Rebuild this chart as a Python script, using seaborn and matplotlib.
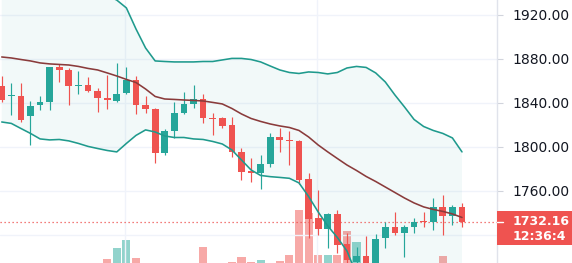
import numpy as np
import matplotlib
matplotlib.use("Agg")
import matplotlib.pyplot as plt
from matplotlib.patches import Rectangle
import seaborn as sns

# ---------------- data ----------------
opens = [1855.5, 1846.4, 1846.4, 1828.2, 1838.2, 1841.2, 1872.5, 1870.0, 1855.5, 1856.4,
         1851.2, 1844.8, 1842.1, 1848.8, 1860.6, 1838.5, 1834.8, 1794.3, 1814.8, 1831.2,
         1838.8, 1843.6, 1826.4, 1826.1, 1820.0, 1795.2, 1777.7, 1776.1, 1784.5, 1809.4,
         1806.4, 1805.8, 1770.6, 1735.2, 1725.2, 1739.1, 1711.5, 1695.5, 1700.9, 1692.7,
         1717.0, 1727.5, 1722.1, 1727.0, 1732.7, 1732.1, 1745.2, 1737.3, 1745.2]
highs = [1864.5, 1858.2, 1858.2, 1841.8, 1846.4, 1872.7, 1875.5, 1871.8, 1869.1, 1863.6,
         1853.6, 1865.5, 1876.6, 1873.0, 1864.5, 1846.4, 1835.5, 1816.4, 1840.9, 1849.7,
         1856.4, 1847.9, 1831.2, 1827.5, 1827.5, 1798.8, 1789.7, 1792.7, 1813.0, 1817.5,
         1814.5, 1806.4, 1776.6, 1760.9, 1740.0, 1742.7, 1721.8, 1709.4, 1719.0, 1720.6,
         1732.1, 1740.6, 1729.1, 1735.2, 1741.2, 1753.4, 1756.4, 1747.3, 1748.8]
lows = [1840.9, 1829.1, 1822.7, 1801.8, 1833.6, 1833.6, 1859.1, 1838.2, 1848.2, 1850.0,
        1831.8, 1834.5, 1841.2, 1848.2, 1830.0, 1830.9, 1785.2, 1792.7, 1808.5, 1830.0,
        1835.5, 1822.1, 1810.9, 1817.0, 1790.6, 1770.0, 1768.5, 1761.5, 1782.1, 1795.7,
        1783.6, 1766.1, 1717.0, 1720.0, 1707.9, 1703.4, 1692.0, 1688.0, 1688.0, 1690.0,
        1707.9, 1720.0, 1699.7, 1722.1, 1727.5, 1724.5, 1720.0, 1729.1, 1727.5]
closes = [1842.7, 1847.3, 1824.5, 1837.3, 1840.9, 1872.5, 1870.0, 1855.5, 1856.4, 1851.2,
          1844.8, 1842.5, 1848.5, 1860.9, 1838.2, 1834.3, 1794.3, 1814.3, 1831.2, 1838.8,
          1843.4, 1826.1, 1825.5, 1819.4, 1795.2, 1777.0, 1776.4, 1784.5, 1809.4, 1806.4,
          1805.5, 1770.0, 1734.5, 1725.2, 1739.1, 1710.9, 1697.3, 1700.9, 1693.0, 1716.0,
          1727.5, 1722.1, 1727.5, 1732.1, 1731.8, 1745.2, 1737.3, 1745.2, 1732.16]
volumes = [14, 16, 12, 18, 15, 20, 13, 17, 12, 15,
           19, 31, 42, 50, 32, 22, 26, 24, 20, 18,
           23, 43, 21, 22, 28, 33, 28, 30, 24, 29,
           35, 80, 77, 35, 35, 35, 59, 48, 25, 22,
           20, 18, 17, 16, 15, 21, 34, 19, 20]
bb_upper = [1940.9, 1940.4, 1942.2, 1944.1, 1945.5, 1944.6, 1943.2, 1943.5, 1943.2, 1942.3,
            1941.4, 1937.8, 1933.5, 1926.4, 1907.3, 1890.0, 1878.2, 1877.7, 1877.3, 1877.3,
            1877.3, 1877.7, 1877.7, 1879.1, 1880.5, 1880.5, 1879.5, 1877.3, 1873.6, 1870.0,
            1867.7, 1866.8, 1868.2, 1867.7, 1866.4, 1867.7, 1871.8, 1873.2, 1872.3, 1867.3,
            1859.1, 1847.3, 1836.4, 1825.0, 1818.6, 1815.0, 1812.3, 1808.2, 1795.5]
bb_mid = [1881.8, 1880.9, 1879.5, 1878.2, 1876.4, 1875.5, 1875.0, 1874.5, 1873.2, 1871.4,
          1870.0, 1867.3, 1864.5, 1861.4, 1858.6, 1852.7, 1845.9, 1843.6, 1843.2, 1842.7,
          1842.3, 1841.8, 1840.5, 1839.1, 1835.0, 1830.0, 1825.9, 1823.2, 1820.9, 1819.1,
          1817.7, 1815.0, 1809.1, 1801.8, 1795.5, 1789.5, 1783.6, 1778.6, 1773.2, 1768.6,
          1763.6, 1758.6, 1753.6, 1749.1, 1745.5, 1743.2, 1741.4, 1739.1, 1735.9]
bb_lower = [1822.7, 1821.4, 1816.8, 1812.3, 1807.3, 1806.4, 1806.8, 1805.5, 1803.2, 1800.5,
            1798.6, 1796.8, 1795.5, 1803.2, 1810.5, 1815.5, 1813.6, 1810.0, 1808.6, 1808.6,
            1807.3, 1806.8, 1805.0, 1802.7, 1797.3, 1788.2, 1779.1, 1774.1, 1773.0, 1772.3,
            1771.5, 1767.3, 1755.0, 1740.9, 1728.2, 1717.7, 1705.5, 1684.1, 1674.1, 1670.0,
            1668.2, 1670.0, 1670.9, 1673.2, 1672.3, 1671.4, 1670.5, 1670.0, 1676.4]
price_ticks = [1720, 1760, 1800, 1840, 1880, 1920]
price_tick_labels = ["", "1760.00", "1800.00", "1840.00", "1880.00", "1920.00"]  # 1720 hidden by price box
last_price = 1732.16
last_price_label = "1732.16"
countdown_label = "12:36:4"

# ---------------- style ----------------
UP = "#26a69a"
DOWN = "#ef5350"
UP_VOL = "#92d3cc"
DOWN_VOL = "#f7a9a7"
BAND = "#1f9a8d"
MID = "#8a3b3b"
GRID = "#f0f3fa"

sns.set_theme(style="white")
plt.rcParams["font.family"] = ["DejaVu Sans"]

W, H = 572, 263
fig = plt.figure(figsize=(W / 100, H / 100), dpi=100)
ax = fig.add_axes([0, 0, 497 / W, 1])
axv = ax.twinx()
axv.set_zorder(ax.get_zorder() - 1)
ax.patch.set_visible(False)

idx = np.arange(len(opens))
o = np.array(opens); c = np.array(closes)
h = np.array(highs); l = np.array(lows)
up = c >= o
colors = np.where(up, UP, DOWN)

# volume (behind)
axv.bar(idx, volumes, width=0.85, color=np.where(up, UP_VOL, DOWN_VOL), linewidth=0)
axv.set_ylim(27, 290)
axv.set_yticks([])
for s in axv.spines.values():
    s.set_visible(False)

# bollinger fill
ax.fill_between(idx, bb_upper, bb_lower, color=UP, alpha=0.06, linewidth=0, zorder=1)

# candles
ax.vlines(idx, l, h, colors=colors, linewidth=0.85, zorder=3)
body_lo = np.minimum(o, c)
body_h = np.maximum(np.abs(c - o), 0.9)
ax.bar(idx, body_h, bottom=body_lo, width=0.7, color=colors, linewidth=0, zorder=3.1)

# bollinger lines
sns.lineplot(x=idx, y=bb_upper, ax=ax, color=BAND, linewidth=1.15, zorder=4)
sns.lineplot(x=idx, y=bb_lower, ax=ax, color=BAND, linewidth=1.15, zorder=4)
sns.lineplot(x=idx, y=bb_mid, ax=ax, color=MID, linewidth=1.15, zorder=4)

# last price dotted line
ax.axhline(last_price, color=DOWN, linestyle=(0, (1, 2.2)), linewidth=0.9, zorder=2)

ax.set_xlim(-0.18, 51.65)
ax.set_ylim(1694.5, 1933.6)
ax.set_yticks(price_ticks)
ax.set_yticklabels(price_tick_labels)
ax.set_xticks([12.9, 32.9])
ax.grid(True, color=GRID, linewidth=1, zorder=0)
ax.set_axisbelow(True)
ax.set_xlabel("")
ax.set_ylabel("")
ax.tick_params(axis="x", bottom=False, labelbottom=False)
ax.yaxis.tick_right()
ax.tick_params(axis="y", right=True, left=False, labelright=True, labelleft=False,
               length=4.3, width=0.8, color="#d1d4dc", pad=7, labelsize=10,
               labelcolor="#131722")
for name, s in ax.spines.items():
    s.set_visible(name == "right")
ax.spines["right"].set_color("#e0e3eb")
ax.spines["right"].set_linewidth(1)

# last price label box
fig.add_artist(Rectangle((497 / W, 1 - 245 / H), 80 / W, 34 / H,
                         transform=fig.transFigure, facecolor=DOWN, edgecolor="none", zorder=10))
fig.add_artist(plt.Line2D([497 / W, 503 / W], [1 - 221.5 / H, 1 - 221.5 / H],
                          transform=fig.transFigure, color="white", linewidth=1, zorder=11))
fig.text(512.5 / W, 1 - 229 / H, f"{last_price_label}\n{countdown_label}", color="white",
         fontsize=9, fontweight="bold", va="center", ha="left", linespacing=1.2, zorder=12)

fig.savefig("out.png", dpi=100)
